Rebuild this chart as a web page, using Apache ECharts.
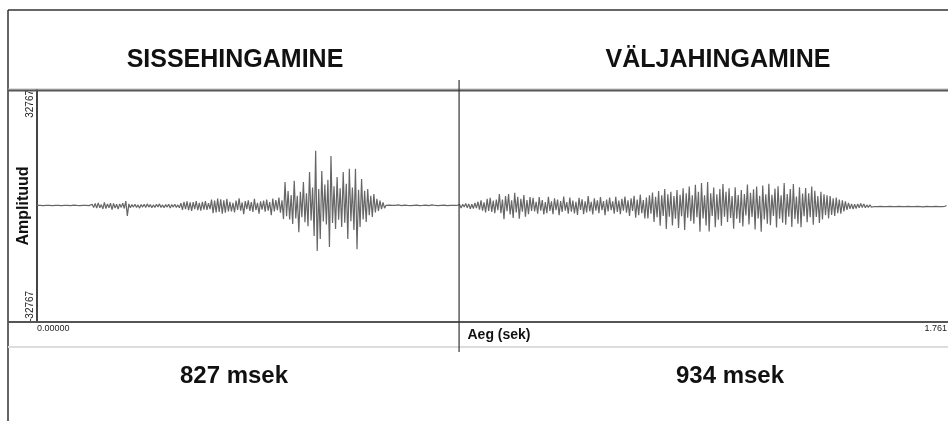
<!doctype html>
<html lang="et">
<head>
  <meta charset="utf-8">
  <title>Sissehingamine / väljahingamine</title>
  <script src="https://cdn.jsdelivr.net/npm/echarts@6/dist/echarts.min.js"></script>
  <style>
    html, body { margin: 0; padding: 0; background: #fff; }
    #chart { width: 948px; height: 421px; }
  </style>
</head>
<body>
  <div id="chart"></div>
  <script>
    // pealkirjad ja kestused
    var phaseTitles = ['SISSEHINGAMINE', 'VÄLJAHINGAMINE'];
    var phaseDurations = ['827 msek', '934 msek'];
    var phaseBoundary = 0.827;   // sek
    var xTickLabels = ['0.00000', '1.761'];
    var yTickLabels = ['-32767', '32767'];

    // amplituudid, samm 0.003 s
    var dt = 0.003;
    var inhaleAmp = [
      150, -100, 200, -150, 100, -200, 150, -100, 200, -150, 100, -150, 200, -100, 150, -200, 100, -150,
      200, -100, 150, -200, 100, -150, 250, -100, 150, -200, 100, -250, 150, -100, 200, -150, 100, -200,
      500, -400, 700, -600, 900, -500, 400, -800, 1000, -700, 600, -500, 800, -1000, 700, -600, 500, -900,
      600, -400, 800, -700, 1400, -2800, 600,
      -500, 400, -300, 500, -400, 300, -600, 400, -300, 500, -400, 600, -300, 400, -500, 300, -400,
      500, -300, 600, -400, 300, -500, 400, -300, 500, -600, 400, -300, 500, -400, 300, -500,
      800, -1100, 1200, -900, 1300, -1200, 1000, -1400, 1100, -900, 1400, -1200, 900, -1300, 1200, -1000, 1400, -1100, 800, -900,
      1800, -2000, 1500, -1800, 2100, -1700, 1900, -2200, 1600, -1900, 2000, -1500,
      1200, -1500, 900, -1800, 1500, -1100, 2200, -1300, 1000, -2300, 1400, -900, 1600, -1400, 1100, -1700, 2000, -1200,
      900, -2200, 1300, -1000, 1500, -1600, 1800, -1300, 1100, -2600, 2100, -1500, 1700, -1200, 2400, -1900, 1600,
      -3700, 6800, -2900, 4200, -3800, 3100, -5100, 7100, -3500, 2900, -7400, 4000, -3200, 6800, -4600, 3600, -5700,
      9600, -4100, 5200, -8500, 15600, -12700, 4800, -9300, 9900, -4400, 6100, -5200, 7400, -11600, 14100, -4800,
      5600, -6500, 8200, -3900, 5000, -5900, 9600, -4700, 6300, -9300, 10500, -4300, 5200, -6800, 10500, -12200,
      4600, -5900, 7600, -3800, 4300, -4500, 4800, -2600, 2900, -3100, 3400, -1800, 2000, -1400, 1500, -900, 1000, -600,
      200, -150, 250, -100, 150, -250, 200, -100, 300, -150, 100, -200, 250, -100, 150, -200, 100, -150, 200, -100,
      250, -150, 100, -200, 150, -100, 250, -150, 100, -200, 300, -100, 150, -250, 100, -150, 200, -100, 250, -150,
      100, -200, 150, -100, 200, -250, 150, -200
    ];
    var exhaleAmp = [
      400, -600, 500, -300, 700, -500, 600, -800, 500, -700, 900, -600,
      1200, -1000, 1600, -1300, 1000, -1800, 2000, -1400, 2300, -1700, 1500, -2000, 1800, -1200,
      3400, -2000, 1800, -3700, 2800, -1500, 3400, -2400, 1600, -3400, 3700, -1800, 2600, -3600, 2000, -1600,
      3100, -3000, 1700, -2300, 2500, -1400,
      2300, -1500, 1200, -2200, 2500, -1300, 1700, -2400, 1100, -2000, 2600, -1400, 1300, -2300, 2200, -1200,
      1800, -2600, 1400, -1700, 2700, -1300, 1100, -2200, 2400, -1600, 1500, -2100, 1200, -2500, 2300, -1100,
      1900, -2300, 1300, -1800, 2800, -1500, 1200, -2400, 2200, -1300, 1600, -2000, 2500, -1200, 1400, -2600,
      1800, -1500, 2400, -1200, 1300, -2200, 2600, -1700, 1500, -2300, 2000, -1300, 2700, -1900, 1600, -2800,
      2200, -1400, 2900, -3300, 1800, -2600, 3200, -2000, 1700, -3500, 2400,
      -3500, 3000, -2200, 3800, -4500, 2600, -3200, 4200, -5600, 3000, -2800, 4800, -6500, 3300, -3000,
      4000, -5500, 2800, -3600, 4500, -6200, 3200, -2900, 5000, -6800, 3600, -3300, 5500, -4200, 3000,
      -5000, 6000, -3200, 4000, -7300, 6500, -3500, 3000, -5500, 6800,
      -7200, 3600, -2800, 5200, -6000, 3300, -3900, 4800, -5600, 6200,
      -3000, 4000, -4500, 5000, -3400, 2800, -6400, 5300, -3600, 3100,
      -4800, 4500, -5800, 3400, -2700, 6100, -5200, 3700, -3100, 4700,
      -6600, 5500, -3500, 2900, -7300, 5800, -3800, 3300, -5000, 6300,
      -5400, 3200, -2800, 4900, -6100, 5600, -3600, 3000, -4700, 6500,
      -5300, 3400, -3000, 4800, -5900, 6200, -3700, 2700, -5000, 5300,
      -6000, 3500, -2900, 5100, -4600, 3600, -3200, 5500, -5300, 4300,
      -3100, 2800, -4800, 4000, -3800, 3300, -2600, 3000, -3500, 2800,
      -2500, 2200, -2800, 2400, -2000, 1800, -2200, 1600, -1500, 1300,
      -1100, 900,
      -800, 600, -900, 500, -700, 600, -500, 700, -400, 600, -500, 300, -400, 300, -300, 200,
      -150, 100, -200, 150, -100, 200, -150, 100, -200, 150, -100, 150, -200, 100, -150, 200, -100, 150,
      -200, 100, -150, 200, -100, 150, -150, 100, -200, 150, -100, 200, -150, 100, -250, 150, -100, 200,
      -150, 100, -200, 150, -100, 150, -200, 100, -150, 200, -100, 150
    ];

    var amp = inhaleAmp.concat(exhaleAmp);
    var wave = amp.map(function (v, i) { return [+(i * dt).toFixed(4), v]; });

    var font = 'Liberation Sans, Arial, sans-serif';
    var W = 948;

    var chart = echarts.init(document.getElementById('chart'), null, { renderer: 'canvas' });

    var option = {
      animation: false,
      backgroundColor: '#fff',
      title: [
        { text: phaseTitles[0], left: 230, top: 43, textAlign: 'center',
          textStyle: { fontFamily: font, fontSize: 25, fontWeight: 'bold', color: '#111' } },
        { text: phaseTitles[1], left: 713, top: 43, textAlign: 'center',
          textStyle: { fontFamily: font, fontSize: 25, fontWeight: 'bold', color: '#111' } },
        { text: phaseDurations[0], left: 229, top: 359, textAlign: 'center',
          textStyle: { fontFamily: font, fontSize: 24, fontWeight: 'bold', color: '#111' } },
        { text: phaseDurations[1], left: 725, top: 359, textAlign: 'center',
          textStyle: { fontFamily: font, fontSize: 24, fontWeight: 'bold', color: '#111' } }
      ],
      grid: { left: 37, right: 0, top: 90, bottom: 99, outerBoundsMode: 'none', containLabel: false },
      xAxis: {
        type: 'value',
        min: 0,
        max: 1.785,
        interval: 1.761,
        name: 'Aeg (sek)',
        nameLocation: 'middle',
        nameGap: 6,
        nameMoveOverlap: false,
        nameTextStyle: { fontFamily: font, fontSize: 14, fontWeight: 'bold', color: '#111',
          verticalAlign: 'top', padding: [0, 0, 0, 13] },
        axisLine: { onZero: false, lineStyle: { color: '#555', width: 2 } },
        axisTick: { show: false },
        splitLine: { show: false },
        axisLabel: {
          showMaxLabel: false,
          margin: 2,
          fontFamily: font, fontSize: 9, color: '#222',
          alignMinLabel: 'left',
          formatter: function (v) { return v === 0 ? xTickLabels[0] : xTickLabels[1]; }
        }
      },
      yAxis: {
        type: 'value',
        min: -32767,
        max: 32767,
        interval: 32767,
        name: 'Amplituud',
        nameLocation: 'middle',
        nameRotate: 90,
        nameGap: 5,
        nameMoveOverlap: false,
        nameTextStyle: { fontFamily: font, fontSize: 16, fontWeight: 'bold', color: '#111' },
        axisLine: { show: true, onZero: false, lineStyle: { color: '#444', width: 2 } },
        axisTick: { show: false },
        splitLine: { show: false },
        axisLabel: {
          rotate: 90,
          margin: 2,
          fontFamily: font, fontSize: 10, color: '#222',
          alignMinLabel: 'left',
          alignMaxLabel: 'right',
          formatter: function (v) {
            if (v < 0) return yTickLabels[0];
            if (v > 0) return yTickLabels[1];
            return '';
          }
        }
      },
      series: [{
        type: 'line',
        data: wave,
        symbol: 'none',
        lineStyle: { color: '#666', width: 1.2 },
        silent: true
      }]
    };
    chart.setOption(option);

    // raam ja jagaja
    var divX = chart.convertToPixel({ gridIndex: 0 }, [phaseBoundary, 0])[0];
    var frame = [
      { x1: 8, y1: 10, x2: W, y2: 10, c: '#333', w: 1.5 },
      { x1: 8, y1: 10, x2: 8, y2: 421, c: '#333', w: 1.5 },
      { x1: 8, y1: 89, x2: W, y2: 89, c: '#bbb', w: 1 },
      { x1: 8, y1: 90.5, x2: W, y2: 90.5, c: '#555', w: 2 },
      { x1: 8, y1: 322, x2: 37, y2: 322, c: '#555', w: 2 },
      { x1: 8, y1: 347, x2: W, y2: 347, c: '#ddd', w: 2 },
      { x1: divX, y1: 80, x2: divX, y2: 352, c: '#333', w: 1.2 }
    ];
    chart.setOption({
      graphic: frame.map(function (f) {
        return {
          type: 'line', silent: true, z: 10,
          shape: { x1: f.x1, y1: f.y1, x2: f.x2, y2: f.y2 },
          style: { stroke: f.c, lineWidth: f.w }
        };
      })
    });
  </script>
</body>
</html>
